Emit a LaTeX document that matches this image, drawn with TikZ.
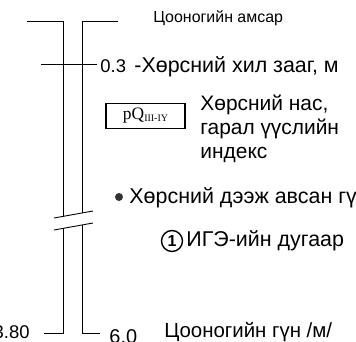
\documentclass[tikz,border=0pt]{standalone}
\usepackage{fontspec}
\setmainfont{Liberation Sans}
\newfontfamily\timesfont{Liberation Serif}
\begin{document}
\begin{tikzpicture}[x=1bp,y=-1bp,line width=0.9bp,
  lbl/.style={inner sep=0,anchor=west,font=\fontsize{21.5}{24}\selectfont},
  numlbl/.style={inner sep=0,anchor=west,font=\fontsize{18.5}{20}\selectfont},
  small/.style={inner sep=0,anchor=west,font=\fontsize{16}{18}\selectfont},
  idxbox/.style={draw,line width=1.1bp,minimum width=79bp,minimum height=25bp,inner sep=0,font=\timesfont\fontsize{17.5}{19}\selectfont},
  num/.style={draw,circle,line width=1.4bp,minimum size=21bp,inner sep=0,font=\bfseries\fontsize{16}{18}\selectfont},
  dot/.style={circle,fill=black!80,minimum size=8bp,inner sep=0}]
\useasboundingbox (0,0) rectangle (356,342);
\clip (0,0) rectangle (356,342);
% coordinates
\coordinate (LTa) at (27,21); \coordinate (LTb) at (63,21);
\coordinate (RTa) at (82,21); \coordinate (RTb) at (118,21);
\coordinate (LUp) at (63,216.4); \coordinate (RUp) at (82,213);
\coordinate (LLo) at (63,228.4); \coordinate (RLo) at (82,225);
\coordinate (LB) at (63,333); \coordinate (RB) at (82,333);
\coordinate (LBa) at (44,333); \coordinate (RBb) at (100,333);
\coordinate (Ha) at (41,64); \coordinate (Hb) at (97,64);
\coordinate (S1a) at (54,218); \coordinate (S1b) at (93,211);
\coordinate (S2a) at (54,230); \coordinate (S2b) at (93,223);
% casing lines
\draw (LTa) -- (LTb) -- (LUp);
\draw (RTb) -- (RTa) -- (RUp);
\draw (LLo) -- (LB) -- (LBa);
\draw (RLo) -- (RB) -- (RBb);
\draw (Ha) -- (Hb);
\draw (S1a) -- (S1b);
\draw (S2a) -- (S2b);
% labels
\node[small] (top) at (153,18) {Цооногийн амсар};
\node[numlbl] (d03) at (100,66) {0.3};
\node[lbl] (soil) at (134,67) {-Хөрсний хил зааг, м};
\node[idxbox] (box) at (145.5,116) {pQ\raisebox{-1.5bp}{\fontsize{10}{11}\selectfont III-IY}};
\node[lbl,anchor=north west,align=left,font=\fontsize{21}{24}\selectfont] (age) at (200,95) {Хөрсний нас,\\гарал үүслийн\\индекс};
\node[dot] (bul) at (119,197) {};
\node[lbl] (sample) at (129,198) {Хөрсний дээж авсан гүн};
\node[num] (one) at (172,241) {1};
\node[lbl] (ige) at (186,241) {ИГЭ-ийн дугаар};
\node[numlbl,anchor=east] (d380) at (30,332) {3.80};
\node[numlbl,font=\fontsize{20}{22}\selectfont] (d60) at (109,337) {6.0};
\node[lbl,font=\fontsize{20.5}{23}\selectfont] (depth) at (164,332) {Цооногийн гүн /м/};
\end{tikzpicture}
\end{document}
